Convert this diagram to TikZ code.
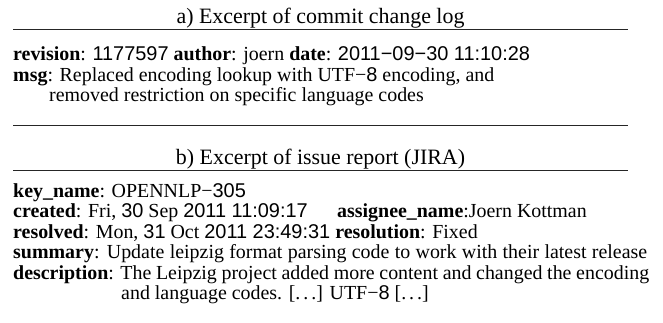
\documentclass[tikz,border=0pt]{standalone}
\usepackage{fontspec}
\setmainfont{Liberation Serif}
\newfontfamily\numf{Liberation Sans}
\newcommand{\nm}[1]{{\numf #1}}
\newcommand{\mn}{−}
\newcommand{\dts}{[.\kern0.15em.\kern0.15em.]}
\begin{document}
\begin{tikzpicture}[x=1bp,y=-1bp,
  txt/.style={anchor=base west,inner sep=0pt,font=\fontsize{20}{22}\selectfont},
  ttl/.style={anchor=base,inner sep=0pt,font=\fontsize{22}{24}\selectfont},
  rule/.style={line width=1bp,black!85}]
\useasboundingbox (0,0) rectangle (663,322);
% section a
\node[ttl] (ta) at (320.5,23.5) {a) Excerpt of commit change log};
\coordinate (la1) at (13,29.3);
\coordinate (la2) at (628,29.3);
\draw[rule] (la1) -- (la2);
\node[txt] (rev) at (13,60) {\textbf{revision}: \nm{1177597} \textbf{author}: joern \textbf{date}: \nm{2011\mn09\mn30 11:10:28}};
\node[txt] (msg) at (13,81) {\textbf{msg}: Replaced encoding lookup with UTF\mn\nm{8} encoding, and};
\node[txt] (msg2) at (49,101.5) {removed restriction on specific language codes};
% separator
\coordinate (lb1) at (13,125);
\coordinate (lb2) at (628,125);
\draw[rule] (lb1) -- (lb2);
% section b
\node[ttl] (tb) at (320.5,164.5) {b) Excerpt of issue report (JIRA)};
\coordinate (lc1) at (13,170);
\coordinate (lc2) at (628,170);
\draw[rule] (lc1) -- (lc2);
\node[txt] (key) at (13,197) {\textbf{key\_name}: OPENNLP\mn\nm{305}};
\node[txt] (cre) at (13,217.5) {\textbf{created}: Fri, \nm{30} Sep \nm{2011 11:09:17}};
\node[txt] (asg) at (337,217.5) {\textbf{assignee\_name}:Joern Kottman};
\node[txt] (res) at (13,238) {\textbf{resolved}: Mon, \nm{31} Oct \nm{2011 23:49:31} \textbf{resolution}: Fixed};
\node[txt] (sum) at (13,258.5) {\makebox[634bp][s]{\textbf{summary}: Update leipzig format parsing code to work with their latest release}};
\node[txt] (des) at (13,279) {\makebox[636bp][s]{\textbf{description}: The Leipzig project added more content and changed the encoding}};
\node[txt] (des2) at (121,299.5) {and language codes. \dts{} UTF\mn\nm{8} \dts};
\end{tikzpicture}
\end{document}
